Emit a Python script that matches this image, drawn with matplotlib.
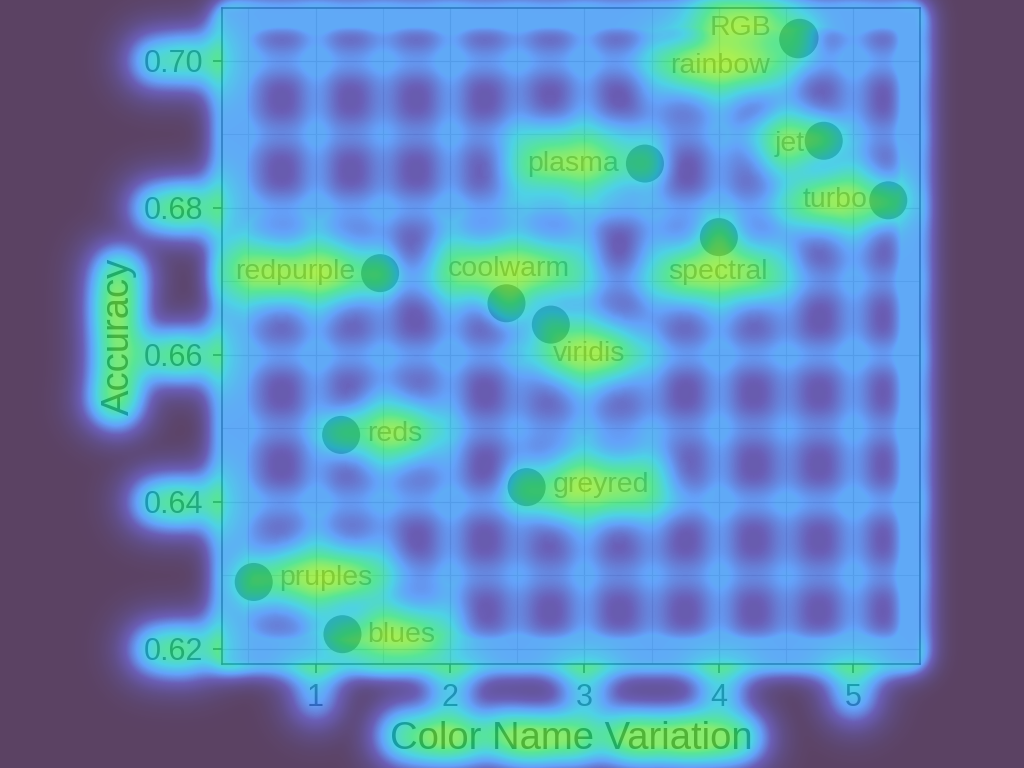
"""Colormap accuracy vs. colour-name variation, shown under an attention heat overlay.

The heat layer is built from the chart itself: render, measure where the ink is
(text vs. lines vs. dots), blur it, colour it and lay it on top at fixed opacity.
"""
import matplotlib

matplotlib.use("Agg")
import matplotlib.pyplot as plt
import numpy as np
from matplotlib.colors import LinearSegmentedColormap
from matplotlib.ticker import MultipleLocator

plt.rcParams["font.family"] = ["Liberation Sans", "DejaVu Sans"]

# ---- data ----
colormaps = ["RGB", "rainbow", "jet", "plasma", "turbo", "spectral", "redpurple",
             "coolwarm", "viridis", "reds", "greyred", "pruples", "blues"]
name_variation = [4.60, 4.59, 4.78, 3.45, 5.26, 4.00, 1.48, 2.42, 2.75, 1.19, 2.57, 0.54, 1.20]
accuracy = [0.7031, 0.7029, 0.6891, 0.6860, 0.6810, 0.6760, 0.6711, 0.6670, 0.6641,
            0.6491, 0.6420, 0.6291, 0.6220]
x_ticks = [1, 2, 3, 4, 5]
y_ticks = [0.62, 0.64, 0.66, 0.68, 0.70]

# label placement like ggrepel left it: (dx pt, dy pt, ha)
LABEL_POS = {
    "RGB": (-20, 7, "right"), "rainbow": (-20, -19, "right"), "jet": (-14, -2, "right"),
    "plasma": (-19, 0, "right"), "turbo": (-15, 0, "right"), "spectral": (-1, -25, "center"),
    "redpurple": (-18, 0.5, "right"), "coolwarm": (2, 24.5, "center"),
    "viridis": (1.5, -21, "left"), "reds": (18.5, 0.5, "left"), "greyred": (18.5, 1.5, "left"),
    "pruples": (18.5, 3, "left"), "blues": (18, -0.5, "left"),
}

W, H, DPI = 1024, 768, 100
ALPHA = 0.75
# final colours (as seen over white) from cold to hot
HEAT_STOPS = [(0.00, (91, 66, 99)), (0.15, (96, 78, 135)), (0.30, (106, 94, 182)),
              (0.45, (100, 162, 250)), (0.58, (78, 210, 230)), (0.72, (88, 230, 150)),
              (0.86, (172, 240, 80)), (1.00, (228, 240, 60))]

fig = plt.figure(figsize=(W / DPI, H / DPI), dpi=DPI, facecolor="white")
ax = fig.add_axes([222 / W, 1 - 664 / H, (920 - 222) / W, (664 - 8) / H])

xa, ya = np.array(name_variation), np.array(accuracy)
xr, yr = np.ptp(xa), np.ptp(ya)
ax.set_xlim(xa.min() - 0.05 * xr, xa.max() + 0.05 * xr)
ax.set_ylim(ya.min() - 0.05 * yr, ya.max() + 0.05 * yr)

ax.xaxis.set_minor_locator(MultipleLocator(0.5))
ax.yaxis.set_minor_locator(MultipleLocator(0.01))
ax.set_xticks(x_ticks)
ax.set_yticks(y_ticks)
ax.set_yticklabels([f"{v:.2f}" for v in y_ticks])
ax.grid(True, which="major", color="#cccccc", lw=0.9, zorder=0)
ax.grid(True, which="minor", color="#d6d6d6", lw=0.8, zorder=0)
ax.set_axisbelow(True)
for s in ax.spines.values():
    s.set_color("#333333"); s.set_linewidth(1.1)
ax.tick_params(which="major", length=6.5, width=1.1, color="#333333", labelcolor="black",
               labelsize=22, pad=7)
ax.tick_params(which="minor", length=0)

pts = ax.scatter(xa, ya, s=750, color="#707070", edgecolors="none", zorder=3)
labels = []
for name, x, y in zip(colormaps, name_variation, accuracy):
    dx, dy, ha = LABEL_POS[name]
    labels.append(ax.annotate(name, (x, y), xytext=(dx, dy), textcoords="offset points",
                              ha=ha, va="center", fontsize=20.5, color="black", zorder=4))

ax.set_xlabel("Color Name Variation", fontsize=27.5, labelpad=6)
ax.set_ylabel("Accuracy", fontsize=27.5, labelpad=5)
titles = [ax.xaxis.label, ax.yaxis.label]


# ---- heat overlay ----
def grab_ink():
    fig.canvas.draw()
    rgb = np.asarray(fig.canvas.buffer_rgba())[..., :3].astype(float) / 255
    return 1 - rgb.mean(axis=2)


def gauss_mat(n, sigma):
    i = np.arange(n)
    k = np.exp(-0.5 * ((i[:, None] - i[None, :]) / sigma) ** 2)
    return k / (sigma * np.sqrt(2 * np.pi))


def blur(a, sigma):
    return gauss_mat(a.shape[0], sigma) @ a @ gauss_mat(a.shape[1], sigma).T


def screen(a, b):
    return 1 - (1 - a) * (1 - b)


# all text black while we measure ink, so every word weighs the same
ink_full = grab_ink()
pts.set_visible(False)
ink_a = grab_ink()
for t in labels + titles:
    t.set_visible(False)
ax.tick_params(labelbottom=False, labelleft=False)
ink_lines = grab_ink()
pts.set_visible(True)
for t in labels + titles:
    t.set_visible(True)
ax.tick_params(labelbottom=True, labelleft=True)

ink_text = np.clip(ink_a - ink_lines, 0, None)
ink_pts = np.clip(ink_full - ink_a, 0, None)

bb = ax.get_window_extent()
mask = np.zeros((H, W))
mask[int(H - bb.y1):int(H - bb.y0), int(bb.x0):int(bb.x1)] = 1
inside = mask > 0

T = blur(ink_text, 16)
T = np.clip(T / np.percentile(T, 99.7), 0, 1) ** 0.45
Lraw = blur(ink_lines, 12)
lo, hi = np.percentile(Lraw[inside], [2, 82])
L = np.clip((Lraw - lo) / (hi - lo), 0, 1) ** 0.75
# frame glow outside the panel: smooth fall-off from the spines
F = blur(ink_lines, 14)
F = np.clip(F / np.percentile(F, 99.8), 0, 1)
P = blur(ink_pts, 12)
P = np.clip(P / P.max(), 0, 1)

M = blur(mask, 3)
base = M * (0.28 + 0.19 * L) + (1 - M) * 0.6 * F
heat = screen(screen(np.clip(base, 0, 1), 0.8 * T), 0.4 * P)

over = [(v, np.clip((np.array(c) - (1 - ALPHA) * 255) / ALPHA, 0, 255) / 255)
        for v, c in HEAT_STOPS]
cmap = LinearSegmentedColormap.from_list("heat", over)
rgba = cmap(np.clip(heat, 0, 1))
rgba[..., 3] = ALPHA

# final text colours (ggplot-ish greys)
for t in labels:
    t.set_color("#7a7a7a")
ax.tick_params(labelcolor="#333333")
for t in titles:
    t.set_color("#262626")

ov = fig.add_axes([0, 0, 1, 1], zorder=10)
ov.imshow(rgba, aspect="auto", interpolation="bilinear")
ov.set_axis_off()

fig.savefig("out.png", dpi=DPI, facecolor="white")
